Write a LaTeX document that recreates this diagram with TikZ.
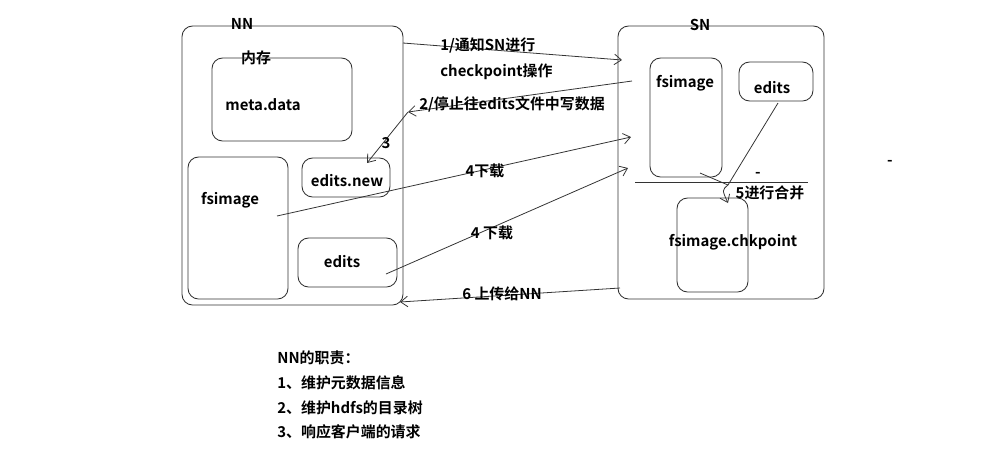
\documentclass[tikz,border=0pt]{standalone}
\usepackage{fontspec}
\setmainfont{Noto Sans CJK SC}[BoldFont={Noto Sans CJK SC Bold}]
\usetikzlibrary{fit,arrows.meta}

\tikzset{
  box/.style={draw=black!80, rounded corners=6pt, inner sep=0pt, line width=0.5pt},
  lbl/.style={font=\fontsize{8.5}{10}\selectfont\bfseries, inner sep=0pt},
  link/.style={draw=black!80, line width=0.45pt, -{Straight Barb[length=4pt,width=6pt]}}
}

\begin{document}
\begin{tikzpicture}[x=0.02cm, y=-0.02cm]
    \useasboundingbox (0,0) rectangle (1008,468);

    % The NN side
    \node[box, fit={(182,26) (403,305)}] (nn) {};
    \node[lbl] (nnname) at (242,24) {NN};
    \node[lbl] (mem) at (256,58) {内存};
    \node[box, fit={(212,58) (352,141)}] (meta) {};
    \node[lbl] (metaname) at (263,105) {meta.data};
    \node[box, fit={(188,157) (288,299)}] (nnfs) {};
    \node[lbl] (nnfsname) at (230,200) {fsimage};
    \node[box, fit={(302,158) (390,197)}] (enew) {};
    \node[lbl] (enewname) at (347,181) {edits.new};
    \node[box, fit={(298,238) (397,287)}] (nned) {};
    \node[lbl] (nnedname) at (342,262) {edits};

    % The SN side
    \node[box, fit={(618,26) (824,299)}] (sn) {};
    \node[lbl] (snname) at (700,25) {SN};
    \node[box, fit={(650,58) (722,177)}] (snfs) {};
    \node[lbl] (snfsname) at (685,83) {fsimage};
    \node[box, fit={(739,62) (813,101)}] (sned) {};
    \node[lbl] (snedname) at (772,88) {edits};
    \node[box, fit={(677,198) (748,292)}] (chk) {};
    \node[lbl] (chkname) at (733,242) {fsimage.chkpoint};
    \draw[black!80, line width=0.5pt] (635,182) -- (808,182);
    \node[lbl] (dash1) at (758,175) {-};
    \node[lbl] (dash2) at (890,163) {-};
    \node[lbl] (merge) at (770,193) {5进行合并};

    % Merge into the checkpoint
    \coordinate (mfs) at (700,173);
    \coordinate (med) at (778,103);
    \coordinate (mjoin) at (728,185);
    \coordinate (mend) at (728,203);
    \draw[black!80, line width=0.45pt] (mfs) -- (mjoin);
    \draw[black!80, line width=0.45pt] (med) -- (mjoin);
    \draw[link] (mjoin) .. controls (722,190) .. (mend);

    % Messages between NN and SN
    \coordinate (p1a) at (403,43);
    \coordinate (p1b) at (622,60);
    \coordinate (p2a) at (632,81);
    \coordinate (p2b) at (408,112);
    \coordinate (p3b) at (367,163);
    \coordinate (p4a) at (277,216);
    \coordinate (p4b) at (631,137);
    \coordinate (p5a) at (386,274);
    \coordinate (p5b) at (628,168);
    \coordinate (p6a) at (620,288);
    \coordinate (p6b) at (400,302);
    \draw[link] (p1a) -- (p1b);
    \draw[link] (p2a) -- (p2b);
    \draw[link] (p2b) -- (p3b);
    \draw[link] (p4a) -- (p4b);
    \draw[link] (p5a) -- (p5b);
    \draw[link] (p6a) -- (p6b);

    \node[lbl, anchor=west] (m1) at (440,45) {1/通知SN进行};
    \node[lbl, anchor=west] (m1b) at (440,72) {checkpoint操作};
    \node[lbl, anchor=west] (m2) at (419,104) {2/停止往edits文件中写数据};
    \node[lbl] (m3) at (386,143) {3};
    \node[lbl] (m4) at (485,171) {4下载};
    \node[lbl] (m5) at (492,233) {4 下载};
    \node[lbl] (m6) at (502,294) {6 上传给NN};

    % Duties of NN
    \node[lbl, anchor=west] (d0) at (277,358) {NN的职责：};
    \node[lbl, anchor=west] (d1) at (277,383) {1、维护元数据信息};
    \node[lbl, anchor=west] (d2) at (277,408) {2、维护hdfs的目录树};
    \node[lbl, anchor=west] (d3) at (277,432) {3、响应客户端的请求};
\end{tikzpicture}
\end{document}
